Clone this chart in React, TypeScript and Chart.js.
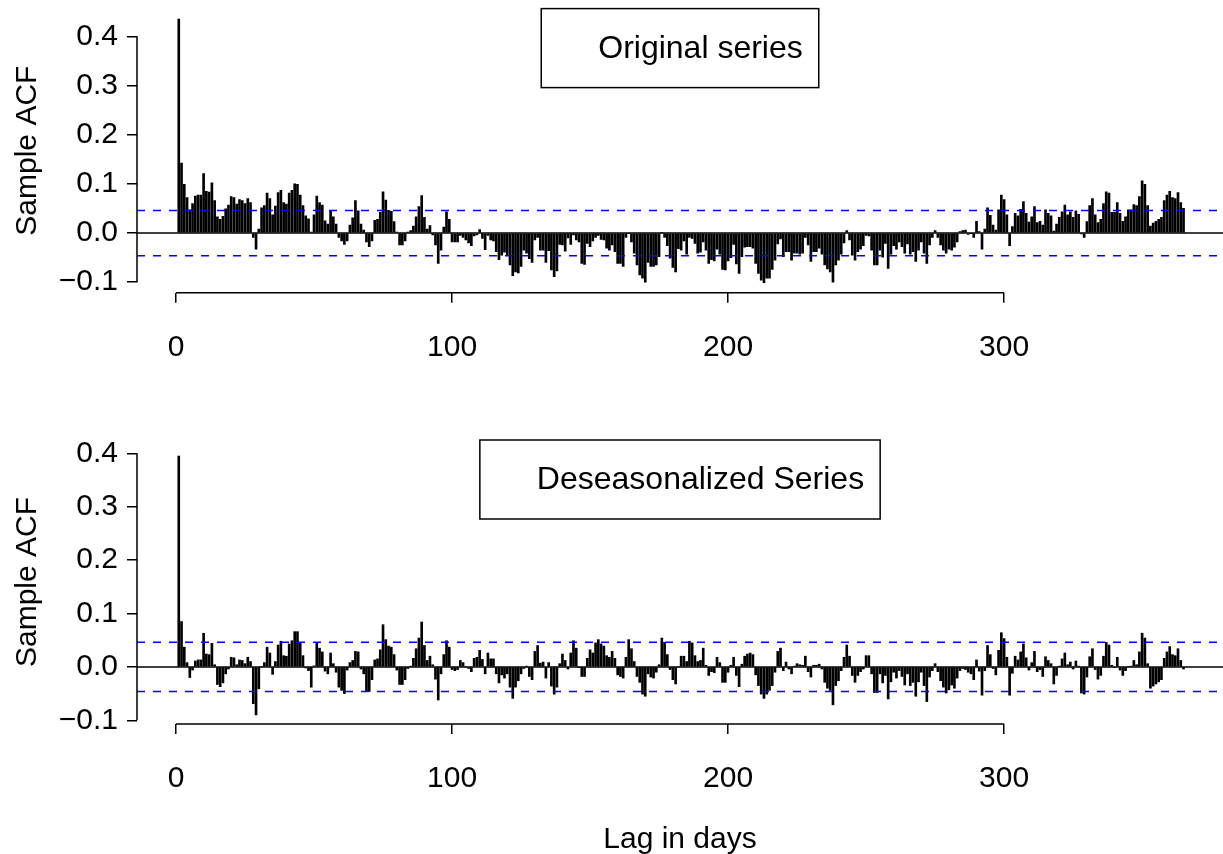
import React, { useEffect, useRef } from "react";
import { Chart, registerables } from "chart.js";

Chart.register(...registerables);

// ---------- data ----------
const ORIGINAL_ACF: number[] = [
  0.435, 0.142, 0.099, 0.072, 0.047, 0.06, 0.075, 0.077, 0.077, 0.121,
  0.085, 0.083, 0.102, 0.066, 0.033, 0.028, 0.034, 0.049, 0.057, 0.074,
  0.072, 0.059, 0.068, 0.066, 0.06, 0.07, 0.062, -0.009, -0.033, 0.008,
  0.051, 0.056, 0.081, 0.07, 0.037, 0.055, 0.082, 0.087, 0.062, 0.059,
  0.081, 0.087, 0.1, 0.099, 0.077, 0.056, 0.035, 0.029, 0.002, 0.037,
  0.075, 0.062, 0.057, 0.025, 0.018, 0.045, 0.033, 0.018, -0.009,
  -0.016, -0.023, -0.016, 0.016, 0.031, 0.066, 0.045, 0.018, 0.006, -0.018,
  -0.028, -0.016, 0.026, 0.028, 0.042, 0.084, 0.067, 0.046, 0.044, 0.023,
  0.002, -0.024, -0.024, -0.016, 0.002, 0.005, 0.014, 0.033, 0.054, 0.076,
  0.032, 0.008, 0.015, -0.004, -0.024, -0.062, -0.035, 0.012, 0.043, 0.028,
  -0.018, -0.018, -0.018, -0.005, -0.009, -0.014, -0.02, -0.026, -0.006, -0.004,
  0.007, -0.011, -0.034, -0.005, -0.014, -0.016, -0.038, -0.054, -0.045, -0.039,
  -0.045, -0.065, -0.087,
  -0.079, -0.081, -0.068, -0.035, -0.041, -0.052, -0.06, -0.014, -0.009, -0.035,
  -0.035, -0.06, -0.036, -0.075, -0.089, -0.077, -0.023, -0.024, -0.037, -0.01,
  -0.023, -0.004, -0.014, -0.018, -0.062, -0.064, -0.021, -0.028, -0.016, -0.009,
  -0.005, -0.013, -0.014, -0.031, -0.035, -0.024, -0.038, -0.062, -0.062, -0.068,
  -0.009, -0.001, -0.018, -0.041, -0.065, -0.085, -0.092, -0.1, -0.06, -0.068,
  -0.068, -0.065, -0.048, 0.001, -0.009, -0.026, -0.051, -0.07, -0.079, -0.032,
  -0.035, -0.016,
  -0.043, -0.009, -0.011, -0.021, -0.041, -0.039, -0.018, -0.035, -0.062, -0.054,
  -0.057, -0.033, -0.043, -0.074, -0.075, -0.057, -0.05, -0.023, -0.063, -0.082,
  -0.048, -0.029, -0.028, -0.028, -0.031, -0.062, -0.082, -0.096, -0.101, -0.092,
  -0.092, -0.074, -0.055, -0.022, -0.012, -0.048, -0.038, -0.038, -0.055, -0.041,
  -0.041, -0.043, -0.041, -0.009, -0.024, -0.058, -0.038, -0.038, -0.031, -0.043,
  -0.065, -0.073, -0.079, -0.1, -0.065, -0.055, -0.043, -0.02, 0.005, -0.014,
  -0.045,
  -0.055, -0.038, -0.033, -0.026, -0.005, -0.006, -0.035, -0.065, -0.065, -0.035,
  -0.049, -0.021, -0.072, -0.043, -0.026, -0.033, -0.018, -0.028, -0.041, -0.022,
  -0.043, -0.038, -0.058, -0.035, -0.018, -0.041, -0.062, -0.024, -0.009, 0.005,
  -0.009, -0.024, -0.035, -0.041, -0.033, -0.035, -0.029, -0.018, 0.003, 0.005,
  0.006, -0.003, -0.001, -0.009, 0.024, 0.003, -0.033, 0.008, 0.051, 0.036,
  0.016, 0.006, 0.047, 0.077, 0.068, 0.037, -0.026, 0.013, 0.04, 0.035,
  0.048,
  0.064, 0.04, 0.022, 0.033, 0.054, 0.021, 0.024, 0.016, 0.047, 0.04,
  0.035, 0.004, 0.018, 0.032, 0.043, 0.057, 0.037, 0.043, 0.032, 0.045,
  0.038, -0.002, -0.009, 0.023, 0.056, 0.07, 0.037, 0.021, 0.028, 0.06,
  0.084, 0.081, 0.042, 0.042, 0.062, 0.04, 0.024, 0.033, 0.047, 0.047,
  0.058, 0.056, 0.074, 0.106, 0.099, 0.056, 0.014, 0.02, 0.024, 0.028,
  0.032, 0.066, 0.077, 0.085, 0.072, 0.07, 0.082, 0.062, 0.05,
];

const DESEASONAL_ACF: number[] = [
  0.395, 0.085, 0.037, 0.008, -0.02, -0.006, 0.011, 0.013, 0.013, 0.063,
  0.024, 0.023, 0.044, 0.004, -0.033, -0.037, -0.03, -0.013, -0.004, 0.018,
  0.017, 0.004, 0.013, 0.012, 0.006, 0.018, 0.01, -0.069, -0.09, -0.041,
  0, 0.008, 0.037, 0.026, -0.014, 0.01, 0.041, 0.048, 0.021, 0.02,
  0.043, 0.049, 0.066, 0.066, 0.045, 0.021, -0.002, -0.007, -0.038, 0.002,
  0.046, 0.035, 0.028, -0.008, -0.013, 0.026, 0.006, -0.01, -0.038,
  -0.044, -0.05, -0.006, 0.008, 0.012, 0.029, 0.028, -0.004, -0.013, -0.046,
  -0.046, -0.024, 0.013, 0.015, 0.032, 0.079, 0.051, 0.039, 0.037, 0.023,
  -0.006, -0.033, -0.033, -0.024, -0.003, 0.001, 0.016, 0.034, 0.054, 0.084,
  0.04, 0.012, 0.02, 0.004, -0.023, -0.062, -0.013, 0.023, 0.049, 0.037,
  -0.005, -0.007, -0.005, 0.012, 0.008, 0, -0.003, -0.009, 0.016, 0.018,
  0.031, 0.014, -0.013, 0.026, 0.015, 0.015, -0.013, -0.03, -0.015, -0.021,
  -0.013, -0.038, -0.059,
  -0.038, -0.026, -0.013, -0.003, 0.001, -0.018, -0.024, 0.029, 0.04, 0.007,
  0.009, -0.021, 0.008, -0.036, -0.051, -0.038, 0.006, 0.024, 0.012, -0.004,
  0.026, 0.049, 0.035, -0.001, -0.018, -0.018, 0.016, 0.032, 0.026, 0.045,
  0.051, 0.043, 0.039, 0.021, 0.018, 0.029, 0.016, -0.015, -0.018, -0.021,
  0.018, 0.051, 0.034, 0.01, -0.018, -0.029, -0.051, -0.055, -0.013, -0.019,
  -0.021, -0.01, 0.004, 0.054, 0.046, 0.023, -0.005, -0.024, -0.032, 0,
  0.02, 0.02,
  0.01, 0.048, 0.045, 0.021, 0.01, 0.012, 0.035, 0.003, -0.016, -0.009,
  -0.011, 0.018, 0.008, -0.029, -0.029, -0.01, 0.003, 0.018, -0.016, -0.037,
  0.005, 0.02, 0.024, 0.026, 0.023, -0.015, -0.035, -0.051, -0.059, -0.051,
  -0.044, -0.035, -0.01, 0.029, 0.035, -0.007, 0.009, -0.004, -0.013, 0.001,
  0.006, 0.004, 0.003, 0.02, -0.009, -0.019, 0.003, 0.003, 0.005, -0.004,
  -0.029, -0.04, -0.044, -0.071, -0.035, -0.026, -0.007, 0.018, 0.041, 0.02,
  -0.016,
  -0.029, -0.016, -0.009, -0.004, 0.021, 0.021, -0.013, -0.048, -0.048, -0.013,
  -0.03, -0.016, -0.06, -0.028, -0.01, -0.021, -0.007, -0.018, -0.034, -0.013,
  -0.035, -0.029, -0.055, -0.028, -0.01, -0.035, -0.065, -0.019, -0.007, 0.006,
  -0.009, -0.026, -0.038, -0.049, -0.043, -0.034, -0.04, -0.021, -0.007, -0.003,
  -0.005, -0.01, -0.013, -0.024, 0.013, -0.008, -0.053, -0.007, 0.04, 0.023,
  -0.003, -0.015, 0.031, 0.064, 0.053, 0.018, -0.053, -0.012, 0.02, 0.013,
  0.028,
  0.043, 0.017, -0.006, 0.008, 0.029, -0.009, -0.005, -0.018, 0.019, 0.012,
  0.006, -0.032, -0.016, 0.001, 0.015, 0.026, 0.004, 0.009, -0.004, 0.011,
  0.001, -0.049, -0.051, -0.019, 0.019, 0.034, -0.005, -0.023, -0.016, 0.02,
  0.046, 0.041, 0.003, -0.001, 0.018, -0.006, -0.016, -0.007, 0, 0.001,
  0.012, 0.004, 0.028, 0.063, 0.054, 0.006, -0.04, -0.036, -0.032, -0.028,
  -0.024, 0.016, 0.028, 0.038, 0.023, 0.021, 0.034, 0.012, -0.004,
];

const PANEL_TITLES = ["Original series", "Deseasonalized Series"];
const X_TICKS = [0, 100, 200, 300];
const Y_TICKS = [-0.1, 0, 0.1, 0.2, 0.3, 0.4];
const CONF_LIMIT = 0.046;
const X_LABEL = "Lag in days";
const Y_LABEL = "Sample ACF";

// ---------- layout ----------
const W = 1223;
const PANEL_H = 427;
const FONT = '"Liberation Sans", Arial, Helvetica, sans-serif';
const FS = 30;
const LEGEND_FS = 32;
const X_MIN = -14.13;
const X_MAX = 379.3;

const decorPlugin = {
  id: "decor",
  afterDatasetsDraw(chart: any, _args: any, opts: any) {
    const { ctx, chartArea: a } = chart;
    const x = chart.scales.x;
    const y = chart.scales.y;
    ctx.save();
    // zero line
    const y0 = y.getPixelForValue(0);
    ctx.strokeStyle = "#000";
    ctx.lineWidth = 1.5;
    ctx.beginPath();
    ctx.moveTo(a.left, y0);
    ctx.lineTo(a.right, y0);
    ctx.stroke();
    // confidence bounds
    ctx.strokeStyle = "#0000ff";
    ctx.lineWidth = 1.5;
    ctx.setLineDash([8, 8]);
    [CONF_LIMIT, -CONF_LIMIT].forEach((v) => {
      const py = y.getPixelForValue(v);
      ctx.beginPath();
      ctx.moveTo(a.left, py);
      ctx.lineTo(a.right, py);
      ctx.stroke();
    });
    ctx.setLineDash([]);
    // R-style axis lines
    ctx.strokeStyle = "#000";
    ctx.lineWidth = 1.5;
    ctx.beginPath();
    ctx.moveTo(a.left, y.getPixelForValue(Y_TICKS[0]));
    ctx.lineTo(a.left, y.getPixelForValue(Y_TICKS[Y_TICKS.length - 1]));
    ctx.moveTo(x.getPixelForValue(X_TICKS[0]), a.bottom);
    ctx.lineTo(x.getPixelForValue(X_TICKS[X_TICKS.length - 1]), a.bottom);
    ctx.stroke();
    // legend box
    const title: string = opts.title;
    ctx.font = `${LEGEND_FS}px ${FONT}`;
    const tw = ctx.measureText(title).width;
    const boxW = 57 + tw + 16;
    const boxH = 79;
    const cx = (a.left + a.right) / 2;
    const bx = cx - boxW / 2;
    const by = a.top;
    ctx.fillStyle = "#fff";
    ctx.fillRect(bx, by, boxW, boxH);
    ctx.strokeRect(bx, by, boxW, boxH);
    ctx.fillStyle = "#000";
    ctx.textBaseline = "middle";
    ctx.textAlign = "left";
    ctx.fillText(title, bx + 57, by + boxH / 2 + 1);
    ctx.restore();
  },
};

type PanelProps = {
  values: number[];
  title: string;
  top: number;
  areaTop: number;
  areaBottom: number;
  yMin: number;
  yMax: number;
  showXTitle: boolean;
};

function Panel({ values, title, top, areaTop, areaBottom, yMin, yMax, showXTitle }: PanelProps) {
  const ref = useRef<HTMLCanvasElement>(null);
  useEffect(() => {
    const canvas = ref.current!;
    const data = values.map((v, i) => ({ x: i + 1, y: v }));
    const tickFont = { family: FONT, size: FS, lineHeight: 1.2 };
    const chart = new Chart(canvas, {
      type: "bar",
      data: {
        datasets: [
          {
            data: data as any,
            backgroundColor: "#000",
            borderWidth: 0,
            barThickness: 2,
          },
        ],
      },
      options: {
        animation: false,
        responsive: false,
        maintainAspectRatio: false,
        devicePixelRatio: 1,
        layout: { padding: { top: areaTop, left: 0, right: 0, bottom: 0 } },
        plugins: {
          legend: { display: false },
          tooltip: { enabled: false },
          decor: { title },
        } as any,
        scales: {
          x: {
            type: "linear",
            min: X_MIN,
            max: X_MAX,
            offset: false,
            afterBuildTicks: (s: any) => {
              s.ticks = X_TICKS.map((value) => ({ value }));
            },
            afterFit: (s: any) => {
              s.height = PANEL_H - areaBottom;
              s.paddingLeft = 0;
              s.paddingRight = 0;
            },
            ticks: {
              autoSkip: false,
              maxRotation: 0,
              color: "#000",
              font: tickFont,
              padding: 27,
              callback: (v: any) => String(v),
            },
            grid: {
              offset: false,
              drawOnChartArea: false,
              drawTicks: true,
              tickLength: 10,
              color: "#000",
              lineWidth: 1.5,
            },
            border: { display: false },
            title: {
              display: showXTitle,
              text: X_LABEL,
              color: "#000",
              font: { family: FONT, size: FS, lineHeight: 1 },
              padding: { top: 0, bottom: -1 },
            },
          },
          y: {
            min: yMin,
            max: yMax,
            afterBuildTicks: (s: any) => {
              s.ticks = Y_TICKS.map((value) => ({ value }));
            },
            afterFit: (s: any) => {
              s.width = 137;
              s.paddingTop = 0;
              s.paddingBottom = 0;
            },
            ticks: {
              autoSkip: false,
              color: "#000",
              font: tickFont,
              padding: 9,
              callback: (v: any) => {
                const n = Number(v);
                return n < 0 ? "\u2212" + Math.abs(n).toFixed(1) : n.toFixed(1);
              },
            },
            grid: {
              drawOnChartArea: false,
              drawTicks: true,
              tickLength: 10,
              color: "#000",
              lineWidth: 1.5,
            },
            border: { display: false },
            title: {
              display: true,
              text: Y_LABEL,
              color: "#000",
              font: { family: FONT, size: FS, lineHeight: 1 },
              padding: { top: 13, bottom: 0 },
            },
          },
        },
      },
      plugins: [decorPlugin],
    });
    return () => chart.destroy();
  }, []);
  return (
    <canvas
      ref={ref}
      width={W}
      height={PANEL_H}
      style={{ position: "absolute", left: 0, top, width: W, height: PANEL_H, display: "block" }}
    />
  );
}

export default function App() {
  return (
    <div style={{ position: "fixed", left: 0, top: 0, width: W, height: 854, background: "#fff", overflow: "hidden" }}>
      <Panel
        values={ORIGINAL_ACF}
        title={PANEL_TITLES[0]}
        top={0}
        areaTop={8.6}
        areaBottom={292.7}
        yMin={-0.1214}
        yMax={0.4564}
        showXTitle={false}
      />
      <Panel
        values={DESEASONAL_ACF}
        title={PANEL_TITLES[1]}
        top={PANEL_H}
        areaTop={13}
        areaBottom={297}
        yMin={-0.107}
        yMax={0.425}
        showXTitle={true}
      />
    </div>
  );
}
